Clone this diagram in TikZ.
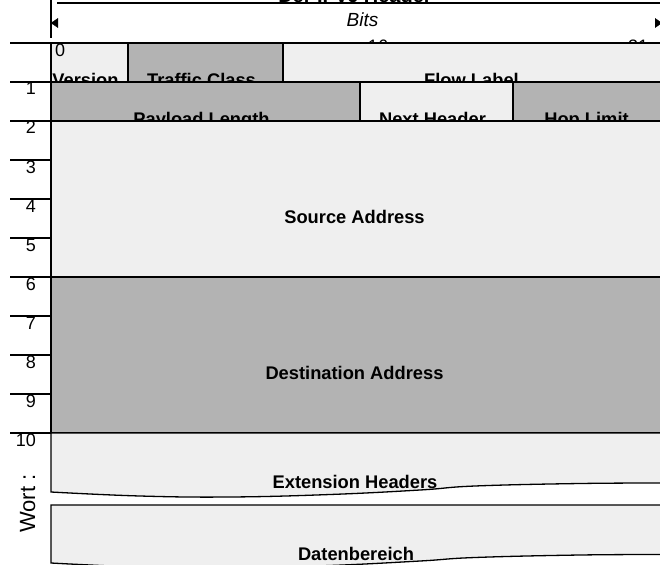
\documentclass[tikz,border=0pt]{standalone}
\usepackage{fontspec}
\setmainfont{Liberation Sans}
\usetikzlibrary{arrows.meta}
\definecolor{cellLight}{HTML}{EFEFEF}
\definecolor{cellDark}{HTML}{B3B3B3}
\begin{document}
\begin{tikzpicture}[x=1pt,y=-1pt,
  cell/.style={draw=black, line width=1.3pt, inner sep=0pt, outer sep=0pt,
               anchor=north west, minimum height=39pt},
  light/.style={cell, fill=cellLight},
  dark/.style={cell, fill=cellDark},
  field/.style={font=\fontsize{18.3}{20}\selectfont\bfseries, inner sep=0pt, anchor=base},
  rownum/.style={font=\fontsize{18}{20}\selectfont, inner sep=0pt, anchor=base east},
  bitnum/.style={font=\fontsize{18}{20}\selectfont, inner sep=0pt, anchor=base},
  rule/.style={line width=1.3pt},
  span/.style={white, line width=0.4pt, >={Latex[color=black,length=8pt,width=10pt]}, <->}
]
\useasboundingbox (0,0) rectangle (660,564);
\clip (0,0) rectangle (660,564);

% heading and the bit scale above the header
\node[font=\fontsize{20}{22}\selectfont\bfseries, inner sep=0pt, anchor=base] (title) at (355,2.5) {Der IPv6 Header};
\coordinate (topL) at (57,3);
\coordinate (topR) at (668,3);
\draw[rule] (topL) -- (topR);
\coordinate (vT) at (51,0);
\coordinate (vB) at (51,38);
\draw[rule] (vT) -- (vB);

\coordinate (bitsL) at (50,23);
\coordinate (bitsR) at (663,23);
\draw[span] (bitsL) -- (bitsR);
\node[font=\fontsize{19}{21}\selectfont\itshape, inner sep=0pt, anchor=base] (bits) at (362.5,27) {Bits};

% bit positions (partly covered by the first row)
\node[bitnum] (b16) at (378,53) {16};
\node[bitnum] (b31) at (638,53) {31};

% word ruler on the left
\foreach \k in {0,...,10} {
  \coordinate (tickL\k) at (10,43+39*\k);
  \coordinate (tickR\k) at (51,43+39*\k);
  \draw[rule] (tickL\k) -- (tickR\k);
}
\foreach \k in {1,...,10}
  \node[rownum] (word\k) at (36,43+39*\k+13) {\k};
\node[font=\fontsize{22}{24}\selectfont, rotate=90, anchor=base west, inner sep=0pt] (wort) at (35,533) {Wort :};

% word 0
\node[light, minimum width=77pt]  (ver) at (51,43) {};
\node[dark,  minimum width=155pt] (tc)  at (128,43) {};
\node[light, minimum width=385pt] (fl)  at (283,43) {};
\node[field] (verL) at ([shift={(-4,24)}]ver.center) {Version};
\node[field] (tcL)  at ([shift={(-4,24)}]tc.center) {Traffic Class};
\node[field] (flL)  at ([shift={(-4,24)}]fl.center) {Flow Label};
\node[bitnum, anchor=base west] (b0) at (55,57) {0};

% word 1
\node[dark,  minimum width=309pt] (pl) at (51,82) {};
\node[light, minimum width=153pt] (nh) at (360,82) {};
\node[dark,  minimum width=155pt] (hl) at (513,82) {};
\node[field] (plL) at ([shift={(-4,24)}]pl.center) {Payload Length};
\node[field] (nhL) at ([shift={(-4,24)}]nh.center) {Next Header};
\node[field] (hlL) at ([shift={(-4,24)}]hl.center) {Hop Limit};

% addresses
\node[light, minimum width=617pt, minimum height=156pt] (src) at (51,121) {};
\node[field] (srcL) at ([shift={(-5,24)}]src.center) {Source Address};
\node[dark, minimum width=617pt, minimum height=156pt] (dst) at (51,277) {};
\node[field] (dstL) at ([shift={(-5,24)}]dst.center) {Destination Address};

% extension headers with torn lower edge
\draw[line width=1.3pt, fill=cellLight]
  (51,433) -- (668,433) -- (668,483)
  -- plot[smooth, tension=0.7] coordinates {(668,483) (580,483.5) (475,486) (420,490) (330,494.5) (230,497) (140,496) (51,492)}
  -- cycle;
\coordinate (extC) at (355,488);
\node[field] (extL) at (extC) {Extension Headers};

% payload data with torn lower edge
\draw[line width=1.3pt, fill=cellLight]
  (51,505) -- (668,505) -- (668,554.5)
  -- plot[smooth, tension=0.7] coordinates {(668,554.5) (580,555) (475,557.5) (420,561) (330,565.5) (230,568) (140,567) (51,563)}
  -- cycle;
\coordinate (datC) at (356,560);
\node[field] (datL) at (datC) {Datenbereich};
\end{tikzpicture}
\end{document}
